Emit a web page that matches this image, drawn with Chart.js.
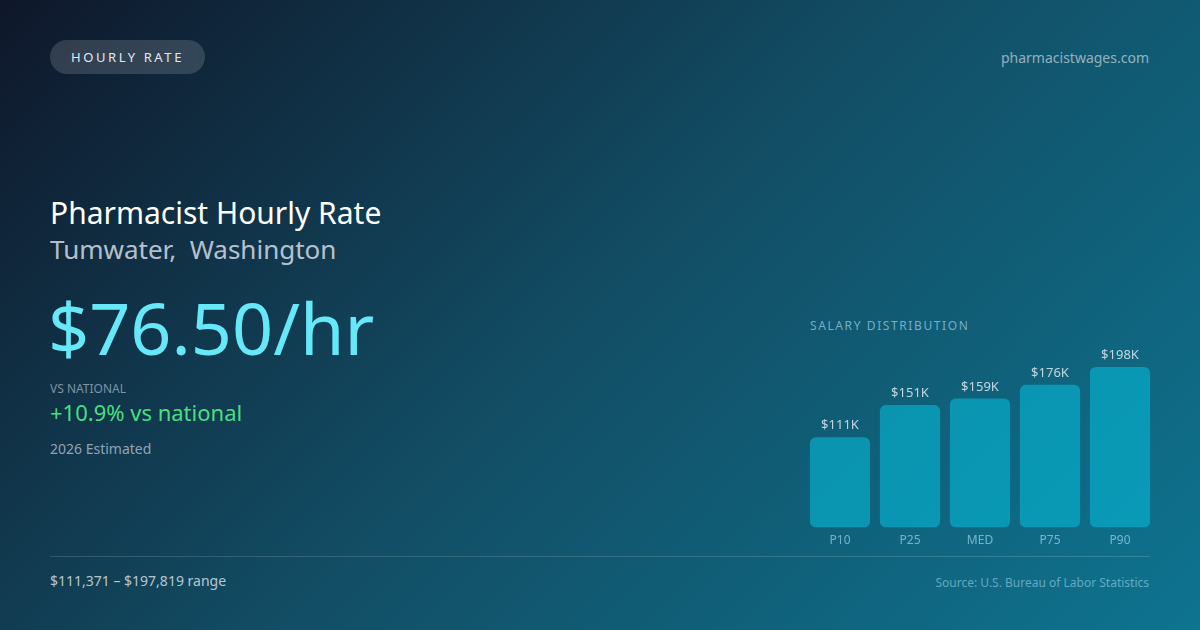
<!DOCTYPE html>
<html>
<head>
<meta charset="utf-8">
<script src="https://cdn.jsdelivr.net/npm/chart.js@4.4.1/dist/chart.umd.min.js"></script>
<style>
  html, body { margin: 0; padding: 0; }
  body { width: 1200px; height: 630px; overflow: hidden; font-family: "Noto Sans", "Open Sans", sans-serif; }
  #card { position: relative; width: 1200px; height: 630px; background: linear-gradient(135deg, #0f172a 0%, #124e65 50%, #0e7490 100%); overflow: hidden; }
  .abs { position: absolute; white-space: nowrap; }
  #pill { left: 50px; top: 40px; width: 155px; height: 34px; border-radius: 17px; background: rgba(255,255,255,0.15); color: #e2e8f0; font-size: 13px; letter-spacing: 2.6px; line-height: 34px; text-align: center; }
  #site { right: 51px; top: 48px; font-size: 14px; color: rgba(255,255,255,0.55); }
  #title { left: 50px; top: 192px; font-size: 30px; color: #ffffff; }
  #loc { left: 50px; top: 231px; font-size: 26px; color: rgba(226,232,240,0.8); }
  #big { left: 48px; top: 288px; font-size: 72px; color: #67e8f9; line-height: 1.1; }
  #vsl { left: 50px; top: 380px; font-size: 12px; color: rgba(203,213,225,0.6); }
  #vs { left: 50px; top: 397px; font-size: 22px; color: #4ade80; }
  #est { left: 50px; top: 439px; font-size: 14px; color: rgba(203,213,225,0.7); }
  #dist { left: 810px; top: 317px; font-size: 12px; letter-spacing: 1.6px; color: rgba(186,230,253,0.6); }
  #rule { left: 50px; top: 556px; width: 1100px; height: 1px; background: rgba(255,255,255,0.15); }
  #range { left: 50px; top: 571px; font-size: 14px; color: rgba(226,232,240,0.8); }
  #src { right: 51px; top: 574px; font-size: 12px; color: rgba(186,230,253,0.5); }
  #chartbox { position: absolute; left: 805px; top: 349px; width: 350px; height: 205px; }
</style>
</head>
<body>
<div id="card">
  <div id="pill" class="abs">HOURLY RATE</div>
  <div id="site" class="abs">pharmacistwages.com</div>
  <div id="title" class="abs">Pharmacist Hourly Rate</div>
  <div id="loc" class="abs">Tumwater,&nbsp; Washington</div>
  <div id="big" class="abs">$76.50/hr</div>
  <div id="vsl" class="abs">VS NATIONAL</div>
  <div id="vs" class="abs">+10.9% vs national</div>
  <div id="est" class="abs">2026 Estimated</div>
  <div id="dist" class="abs">SALARY DISTRIBUTION</div>
  <div id="chartbox"><canvas id="c"></canvas></div>
  <div id="rule" class="abs"></div>
  <div id="range" class="abs">$111,371 – $197,819 range</div>
  <div id="src" class="abs">Source: U.S. Bureau of Labor Statistics</div>
</div>
<script>
const categories = ["P10", "P25", "MED", "P75", "P90"];
const salaries = [111371, 151000, 159120, 176000, 197819];
const yMax = 220000;

const valueLabels = {
  id: "valueLabels",
  afterDatasetsDraw(chart) {
    const ctx = chart.ctx;
    const meta = chart.getDatasetMeta(0);
    ctx.save();
    ctx.font = "13px 'Noto Sans', sans-serif";
    ctx.fillStyle = "rgba(226,232,240,0.85)";
    ctx.textAlign = "center";
    ctx.textBaseline = "bottom";
    meta.data.forEach((bar, i) => {
      const v = chart.data.datasets[0].data[i];
      ctx.fillText("$" + Math.round(v / 1000) + "K", bar.x, bar.y - 5);
    });
    ctx.restore();
  }
};

new Chart(document.getElementById("c"), {
  type: "bar",
  data: {
    labels: categories,
    datasets: [{
      data: salaries,
      backgroundColor: "rgba(6,182,212,0.62)",
      borderRadius: 6,
      borderSkipped: false,
      barPercentage: 0.86,
      categoryPercentage: 1.0
    }]
  },
  options: {
    responsive: true,
    maintainAspectRatio: false,
    animation: false,
    layout: { padding: 0 },
    plugins: { legend: { display: false }, tooltip: { enabled: false } },
    scales: {
      x: {
        grid: { display: false, drawTicks: false },
        border: { display: false },
        ticks: { color: "rgba(186,230,253,0.6)", font: { size: 12, family: "'Noto Sans', sans-serif" }, padding: 6 }
      },
      y: { display: false, min: 0, max: yMax }
    }
  },
  plugins: [valueLabels]
});
</script>
</body>
</html>
